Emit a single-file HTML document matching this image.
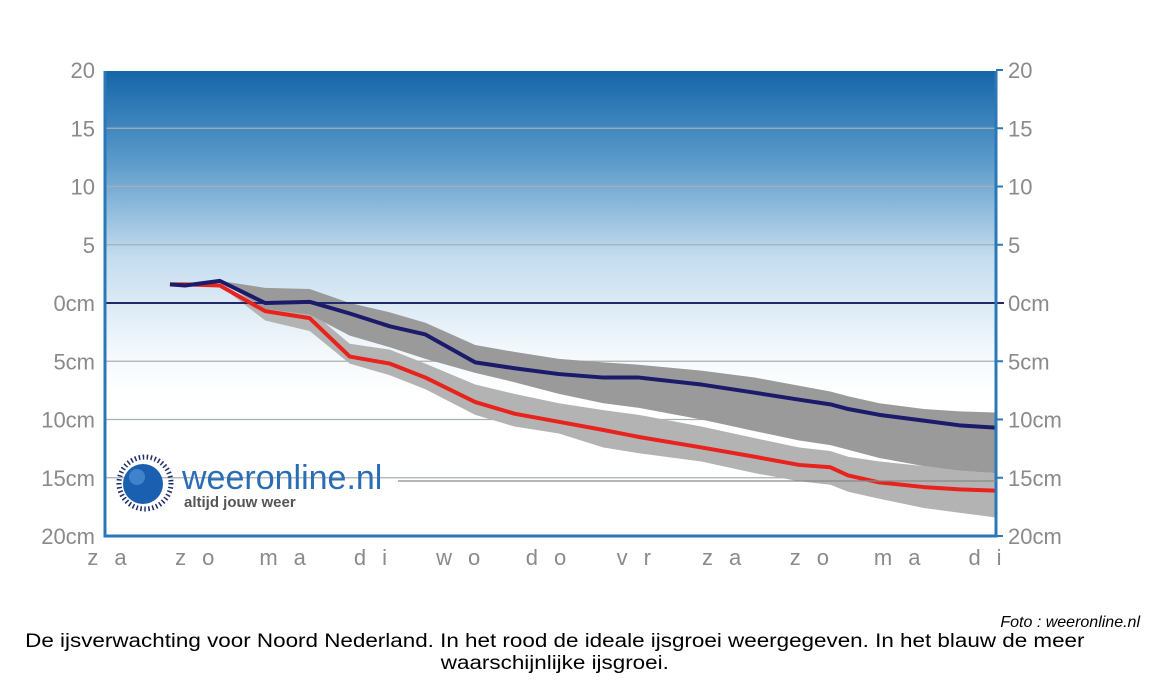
<!DOCTYPE html>
<html><head><meta charset="utf-8">
<style>
body{margin:0;background:#fff;width:1163px;height:685px;overflow:hidden;font-family:"Liberation Sans",sans-serif;}
svg{position:absolute;left:0;top:0}
.cap{position:absolute;font-size:19px;color:#000;line-height:22px}
</style></head><body>
<svg width="1163" height="685">
<defs>
<linearGradient id="bg" x1="0" y1="0" x2="0" y2="1">
<stop offset="0" stop-color="#1565a8"/><stop offset="0.2" stop-color="#5e9ccb"/><stop offset="0.4" stop-color="#c4dcee"/><stop offset="0.6" stop-color="#f3f8fc"/><stop offset="0.7" stop-color="#ffffff"/><stop offset="1" stop-color="#ffffff"/>
</linearGradient>
</defs>
<g id="plot"></g>
</svg>
<div class="cap" style="top:612px;right:23px;font-style:italic;font-size:16px">Foto : weeronline.nl</div>
<div class="cap" style="top:631px;left:25px;width:898px;text-align:center;transform:scaleX(1.18);transform-origin:0 0">De ijsverwachting voor Noord Nederland. In het rood de ideale ijsgroei weergegeven. In het blauw de meer<br>waarschijnlijke ijsgroei.</div>
<script>
const days=[0.73,0.9,1.29,1.8,2.3,2.75,3.2,3.6,4.16,4.6,5.1,5.6,6.0,6.7,7.3,7.8,8.15,8.35,8.7,9.2,9.6,10.0];
const blueVals=[1.6,1.5,1.9,0.0,0.1,-0.9,-2.0,-2.7,-5.1,-5.6,-6.1,-6.4,-6.4,-7.0,-7.7,-8.3,-8.7,-9.1,-9.6,-10.1,-10.5,-10.7];
const redVals=[1.6,1.6,1.5,-0.7,-1.3,-4.6,-5.2,-6.4,-8.5,-9.5,-10.2,-10.9,-11.5,-12.4,-13.2,-13.9,-14.1,-14.8,-15.4,-15.8,-16.0,-16.1];
const darkTop=[1.6,1.6,1.9,1.3,1.2,0.0,-0.8,-1.7,-3.6,-4.2,-4.8,-5.1,-5.3,-5.8,-6.4,-7.1,-7.6,-8.0,-8.6,-9.1,-9.3,-9.4];
const darkBot=[1.6,1.6,1.9,-0.5,-1.0,-2.8,-3.8,-4.8,-6.0,-6.8,-7.8,-8.6,-9.0,-10.0,-11.0,-11.8,-12.2,-12.6,-13.3,-14.0,-14.4,-14.6];
const lightTop=[1.6,1.6,1.5,-0.2,-0.6,-3.5,-4.0,-5.2,-7.0,-7.8,-8.6,-9.2,-9.6,-10.6,-11.6,-12.4,-12.7,-13.2,-13.6,-14.0,-14.4,-14.6];
const lightBot=[1.6,1.6,1.5,-1.5,-2.4,-5.2,-6.2,-7.4,-9.6,-10.6,-11.2,-12.4,-12.9,-13.6,-14.6,-15.3,-15.6,-16.2,-16.8,-17.6,-18.0,-18.4];
const yTicks=[20,15,10,5,0,-5,-10,-15,-20];
const yLabelsL=["20","15","10","5","0cm","5cm","10cm","15cm","20cm"];
const dayLabels=["za","zo","ma","di","wo","do","vr","za","zo","ma","di"];

const L=105,R=996,T=71,B=536;
const x=d=>L+d*89;
const y=v=>303-v*(B-303)/20;
const NS="http://www.w3.org/2000/svg";
const g=document.getElementById('plot');
function mk(t,a,p){const e=document.createElementNS(NS,t);for(const k in a)e.setAttribute(k,a[k]);(p||g).appendChild(e);return e;}

const bg=mk('rect',{x:L,y:T,width:R-L,height:B-T,fill:'url(#bg)'});



yTicks.forEach((v,i)=>{
  if(v!==0&&v!==20&&v!==-20){
    const gl=mk('line',{x1:L,x2:R,y1:y(v),y2:y(v),stroke:'#a8aeb4','stroke-width':1.3});
    
    
  }
  const tl=mk('text',{x:L-10,y:y(v)+8,'text-anchor':'end','font-size':22,fill:'#8a8a8a'});
  tl.textContent=yLabelsL[i];
  
  
  const tr=mk('text',{x:R+12,y:y(v)+8,'font-size':22,fill:'#8a8a8a'});
  tr.textContent=yLabelsL[i];
  
  
  const tk=mk('line',{x1:R,x2:R+7,y1:y(v),y2:y(v),stroke:'#2a78b8','stroke-width':2});
  
  
});

function band(top,bot,fill,name){
  let d='M'+days.map((dd,i)=>x(dd)+','+y(top[i])).join('L');
  for(let i=days.length-1;i>=0;i--)d+='L'+x(days[i])+','+y(bot[i]);
  const p=mk('path',{d:d+'Z',fill:fill});
  
  
}
band(lightTop,lightBot,'#b3b3b3','red-uncertainty-band');
band(darkTop,darkBot,'#9a9a9a','blue-uncertainty-band');

const z=mk('line',{x1:L,x2:R+8,y1:y(0),y2:y(0),stroke:'#1f2a6e','stroke-width':2});



function line(vals,col,name){
  const p=mk('polyline',{points:days.map((d,i)=>x(d)+','+y(vals[i])).join(' '),fill:'none',stroke:col,'stroke-width':4,'stroke-linejoin':'round'});
  
  
}
line(redVals,'#e8221c','red-ideal-line');
line(blueVals,'#1c1a6a','blue-likely-line');

const ax=mk('path',{d:`M${L},${T}V${B}H${R}V${T}`,fill:'none',stroke:'#2a78b8','stroke-width':3});



dayLabels.forEach((s,i)=>{
  const t=mk('text',{x:115+i*87.8,y:565,'text-anchor':'middle','font-size':22,fill:'#8a8a8a','letter-spacing':'16px'});
  t.textContent=s;
  
  
});

// logo
const lg=mk('g',{});


mk('circle',{cx:145,cy:483,r:26,fill:'none',stroke:'#1c2d6a','stroke-width':5,'stroke-dasharray':'1.5 2.5'},lg);
mk('circle',{cx:143,cy:484,r:20,fill:'#1b5fb0'},lg);
mk('circle',{cx:137,cy:477,r:8,fill:'#5a9be0',opacity:0.6},lg);
const t1=mk('text',{x:182,y:489,'font-size':34,fill:'#2a6db4'},lg);t1.textContent='weeronline.nl';
const t2=mk('text',{x:184,y:507,'font-size':15,fill:'#555','font-weight':'bold'},lg);t2.textContent='altijd jouw weer';
const ll=mk('line',{x1:398,x2:R,y1:481,y2:481,stroke:'#888','stroke-width':1.3});


</script>
</body></html>
